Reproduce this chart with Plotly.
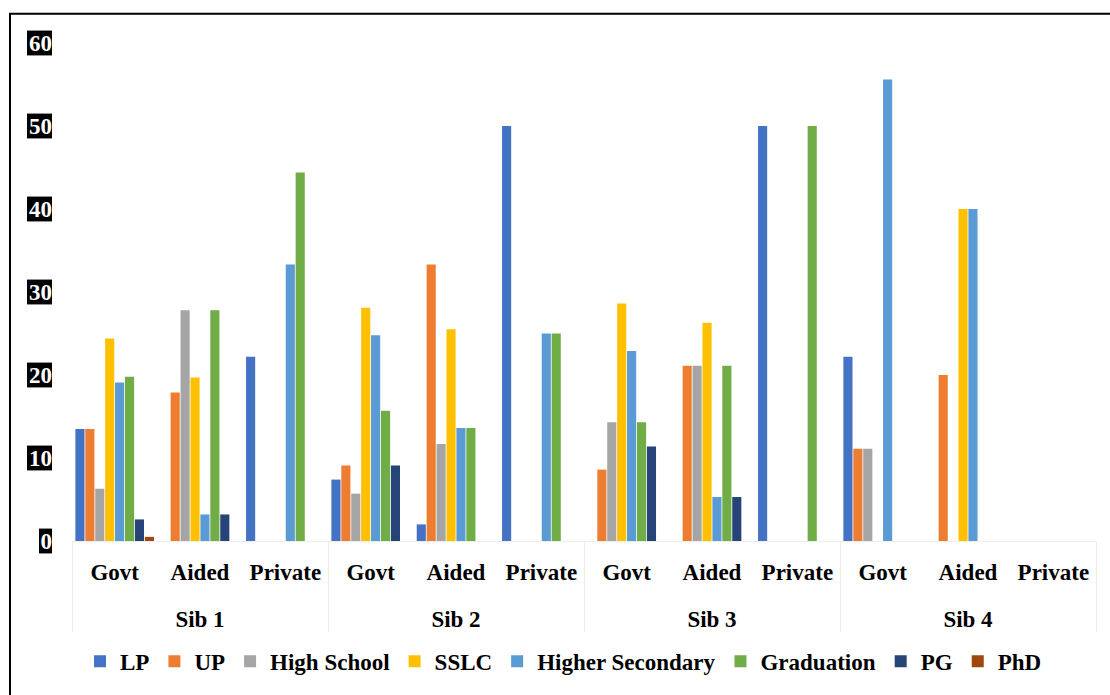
import plotly.graph_objects as go

# Sibling groups and school types (two-level x axis)
siblings = ["Sib 1", "Sib 2", "Sib 3", "Sib 4"]
school_types = ["Govt", "Aided", "Private"]

# Education levels (series)
levels = ["LP", "UP", "High School", "SSLC", "Higher Secondary", "Graduation", "PG", "PhD"]
level_colors = ["#4472C4", "#ED7D31", "#A5A5A5", "#FFC000", "#5B9BD5", "#70AD47", "#264478", "#9E480E"]

# Percentage per level, ordered Sib1 Govt/Aided/Private, Sib2 ..., Sib4
lp_vals = [13.5, 0, 22.2, 7.4, 2.0, 50.0, 0, 0, 50.0, 22.2, 0, 0]
up_vals = [13.5, 17.9, 0, 9.1, 33.3, 0, 8.6, 21.1, 0, 11.1, 20.0, 0]
high_school_vals = [6.3, 27.8, 0, 5.7, 11.7, 0, 14.3, 21.1, 0, 11.1, 0, 0]
sslc_vals = [24.4, 19.7, 0, 28.1, 25.5, 0, 28.6, 26.3, 0, 0, 40.0, 0]
higher_secondary_vals = [19.1, 3.2, 33.3, 24.8, 13.6, 25.0, 22.9, 5.3, 0, 55.6, 40.0, 0]
graduation_vals = [19.8, 27.8, 44.4, 15.7, 13.6, 25.0, 14.3, 21.1, 50.0, 0, 0, 0]
pg_vals = [2.6, 3.2, 0, 9.1, 0, 0, 11.4, 5.3, 0, 0, 0, 0]
phd_vals = [0.5, 0, 0, 0, 0, 0, 0, 0, 0, 0, 0, 0]

series_values = [lp_vals, up_vals, high_school_vals, sslc_vals,
                 higher_secondary_vals, graduation_vals, pg_vals, phd_vals]

# Y axis ticks
y_ticks = [0, 10, 20, 30, 40, 50, 60]
y_tick_labels = [str(t) for t in y_ticks]

# Outer labels get a leading blank line so they sit lower under the inner row
x_outer = ["<br>" + s for s in siblings for _ in school_types]
x_inner = [t for _ in siblings for t in school_types]

FONT = "Liberation Serif, 'Times New Roman', Times, serif"

fig = go.Figure()
for name, color, vals in zip(levels, level_colors, series_values):
    fig.add_trace(go.Bar(
        name=name,
        x=[x_outer, x_inner],
        y=vals,
        marker=dict(color=color, line=dict(width=0)),
    ))

# Plot area geometry (pixels) used to place the label boxes and frame
W, H = 1110, 695
ML, MR, MT, MB = 72, 14, 43, 151
PW = W - ML - MR
PH = H - MT - MB

shapes = []
# Black boxes behind the white y tick labels
for t, lab in zip(y_ticks, y_tick_labels):
    right_px = 52
    left_px = right_px - (13 + 12 * (len(lab) - 1))
    yc = t / 60.0
    half = 12.5 / PH
    shapes.append(dict(
        type="rect", xref="paper", yref="paper",
        x0=(left_px - ML) / PW, x1=(right_px - ML) / PW,
        y0=yc - half, y1=yc + half,
        fillcolor="black", line=dict(width=0), layer="below",
    ))

# Outer frame
shapes.append(dict(
    type="rect", xref="paper", yref="paper",
    x0=(10 - ML) / PW, x1=(W + 10 - ML) / PW,
    y0=(MT + PH - (H + 10)) / PH, y1=(MT + PH - 13.5) / PH,
    line=dict(color="black", width=2), fillcolor="rgba(0,0,0,0)", layer="above",
))

fig.update_layout(
    width=W, height=H,
    margin=dict(l=ML, r=MR, t=MT, b=MB),
    barmode="group",
    bargap=0.07,
    bargroupgap=0.08,
    plot_bgcolor="white",
    paper_bgcolor="white",
    font=dict(family=FONT, color="black"),
    showlegend=True,
    legend=dict(
        orientation="h", x=0.48, xanchor="center",
        y=(PH - (665 - MT)) / PH, yanchor="middle",
        font=dict(family=FONT, size=23, color="black", weight="bold"),
        itemwidth=30, tracegroupgap=0,
    ),
    shapes=shapes,
)

fig.update_xaxes(
    type="multicategory",
    showgrid=False,
    showline=True, linecolor="#eeeeee", linewidth=1,
    showdividers=True, dividercolor="#ececec", dividerwidth=1,
    ticks="",
    tickfont=dict(family=FONT, size=23, color="black", weight="bold"),
    ticklabelstandoff=10,
)

fig.update_yaxes(
    range=[0, 60],
    tickvals=y_ticks,
    ticktext=y_tick_labels,
    showgrid=False, zeroline=False, showline=False,
    ticks="",
    tickfont=dict(family=FONT, size=23, color="white", weight="bold"),
    ticklabelstandoff=19,
)

fig.write_html("out.html")
